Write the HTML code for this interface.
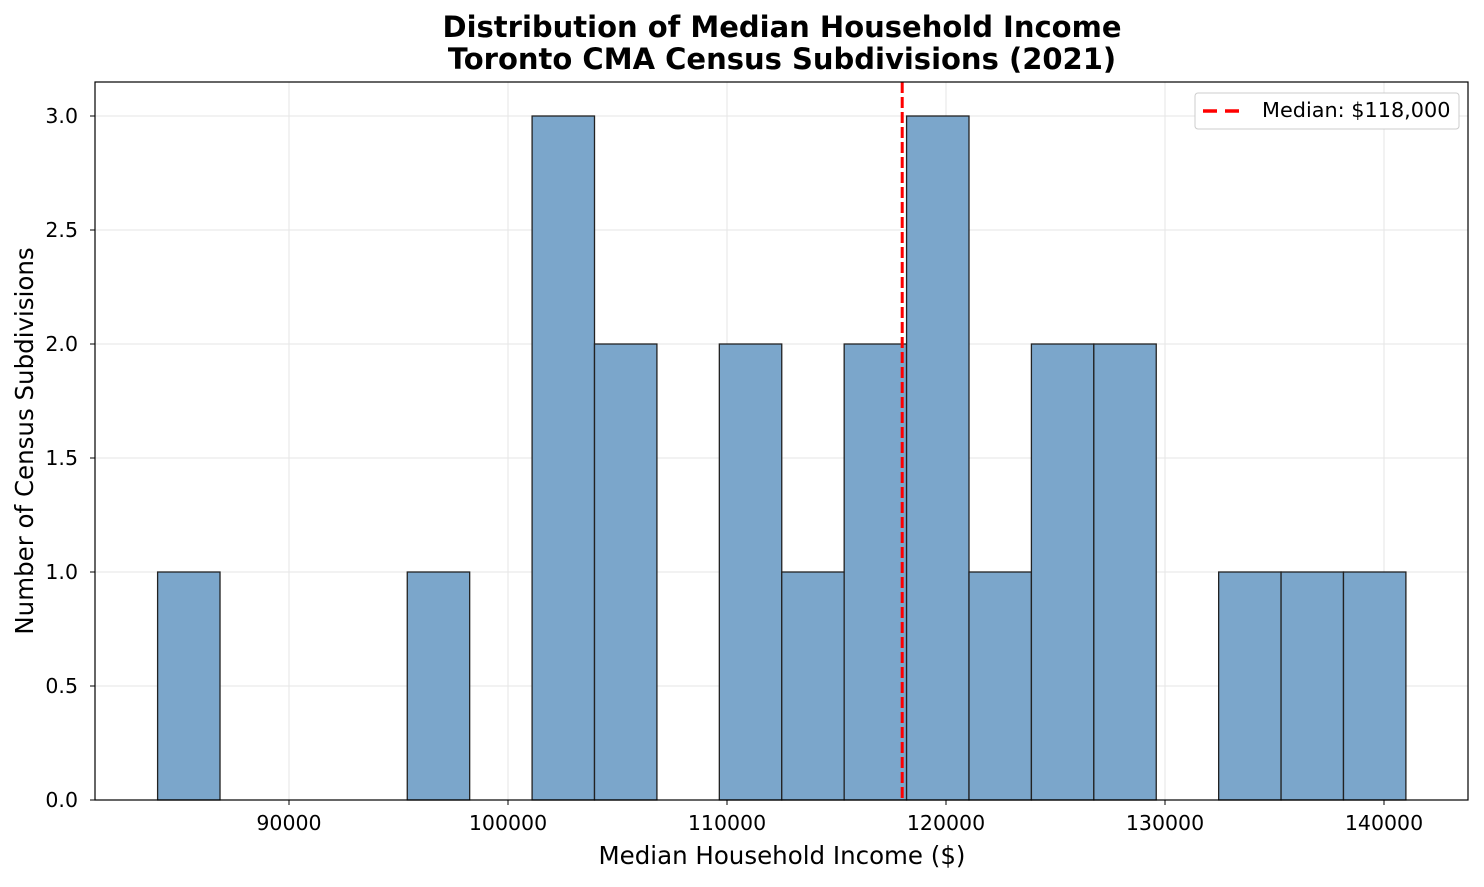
<!DOCTYPE html>
<html><head><meta charset="utf-8"><style>
body{margin:0;background:#fff;font-family:"Liberation Sans","DejaVu Sans",sans-serif;}
</style></head><body>
<svg width="1484" height="882" xmlns="http://www.w3.org/2000/svg" font-family="DejaVu Sans, Liberation Sans, sans-serif">
<g id="grid"></g>
<g id="bars"></g>
<g id="axes"></g>
<text x="782" y="37" text-anchor="middle" font-size="29" font-weight="bold">Distribution of Median Household Income</text>
<text x="782" y="69" text-anchor="middle" font-size="29" font-weight="bold">Toronto CMA Census Subdivisions (2021)</text>
<text x="782" y="864" text-anchor="middle" font-size="24.5">Median Household Income ($)</text>
<text transform="translate(33,441) rotate(-90)" text-anchor="middle" font-size="24.5">Number of Census Subdivisions</text>
<g>
<rect x="1195" y="93" width="264" height="36" fill="#fff" stroke="#ccc" rx="3"/>
<line x1="1203" y1="111" x2="1241" y2="111" stroke="#f00" stroke-width="3.5" stroke-dasharray="14,8"/>
<text x="1262" y="117" font-size="20.8">Median: $118,000</text>
</g>
</svg>
<script>
const binStart=84000, binWidth=2850;
const counts=[1,0,0,0,1,0,3,2,0,2,1,2,3,1,2,2,0,1,1,1];
const xTicks=[90000,100000,110000,120000,130000,140000];
const yTicks=[0,0.5,1,1.5,2,2.5,3];
const medianValue=118000;
const L=95,R=1468,T=82,B=800;
const X=v=>289+(v-90000)*0.0219;
const Y=v=>B-v*228;
const ns="http://www.w3.org/2000/svg";
function mk(t,a,p){const e=document.createElementNS(ns,t);for(const k in a)e.setAttribute(k,a[k]);p.appendChild(e);return e;}
const g=document.getElementById('grid'),bars=document.getElementById('bars'),ax=document.getElementById('axes');
xTicks.forEach(v=>{const l=mk('line',{x1:X(v),x2:X(v),y1:T,y2:B,stroke:'#e5e5e5','stroke-width':1},g);


mk('line',{x1:X(v),x2:X(v),y1:B,y2:B+5,stroke:'#000'},ax);
const t=mk('text',{x:X(v),y:B+30,'text-anchor':'middle','font-size':20.5},ax);t.textContent=v;

});
yTicks.forEach(v=>{const l=mk('line',{x1:L,x2:R,y1:Y(v),y2:Y(v),stroke:'#e5e5e5','stroke-width':1},g);


mk('line',{x1:L-5,x2:L,y1:Y(v),y2:Y(v),stroke:'#000'},ax);
const t=mk('text',{x:L-17,y:Y(v)+7,'text-anchor':'end','font-size':20.5},ax);t.textContent=v.toFixed(1);

});
counts.forEach((c,i)=>{if(!c)return;const x0=X(binStart+i*binWidth),x1=X(binStart+(i+1)*binWidth);
const r=mk('rect',{x:x0,y:Y(c),width:x1-x0,height:B-Y(c),fill:'#7ba6cb',stroke:'#222','stroke-width':1.3},bars);

});
const m=mk('line',{x1:X(medianValue),x2:X(medianValue),y1:T,y2:B,stroke:'#f00','stroke-width':3,'stroke-dasharray':'11,4'},ax);


const f=mk('rect',{x:L,y:T,width:R-L,height:B-T,fill:'none',stroke:'#000','stroke-width':1.2},ax);


</script>
</body></html>
